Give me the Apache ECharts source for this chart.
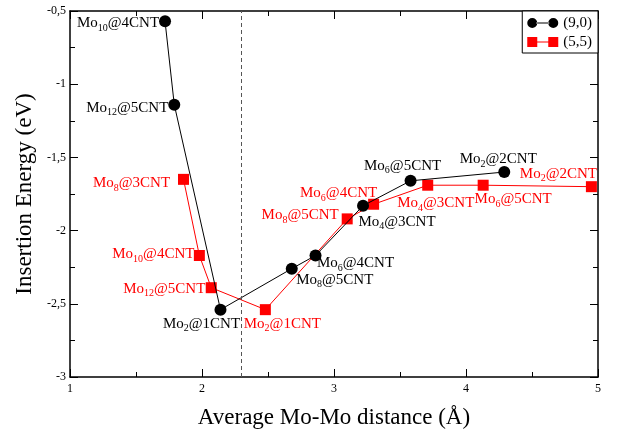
<!DOCTYPE html>
<html>
<head>
<meta charset="utf-8">
<script src="https://cdn.jsdelivr.net/npm/echarts@6/dist/echarts.min.js"></script>
<style>
    html, body { margin: 0; padding: 0; background: #fff; }
    #chart { width: 621px; height: 434px; }
</style>
</head>
<body>
<div id="chart"></div>
<script>
// Data
// ------------------------------

// (9,0) tubes
var zigzagX = [1.72, 1.79, 2.14, 2.68, 2.86, 3.22, 3.58, 4.29];
var zigzagY = [-0.57, -1.14, -2.54, -2.26, -2.17, -1.83, -1.66, -1.60];
var zigzagNames = ['Mo10@4CNT', 'Mo12@5CNT', 'Mo2@1CNT', 'Mo8@5CNT', 'Mo6@4CNT', 'Mo4@3CNT', 'Mo6@5CNT', 'Mo2@2CNT'];

// (5,5) tubes
var armchairX = [1.86, 1.98, 2.07, 2.48, 3.10, 3.30, 3.71, 4.13, 4.95];
var armchairY = [-1.65, -2.17, -2.39, -2.54, -1.92, -1.82, -1.69, -1.69, -1.70];
var armchairNames = ['Mo8@3CNT', 'Mo10@4CNT', 'Mo12@5CNT', 'Mo2@1CNT', 'Mo8@5CNT', 'Mo6@4CNT', 'Mo4@3CNT', 'Mo6@5CNT', 'Mo2@2CNT'];

// Dashed reference distance
var refDistance = 2.3;

// Label offsets (px, relative to the marker centre)
var zigzagOffsets = [[-47, 2], [-47, 3], [-19, 14], [43, 11], [40, 8], [34, 16], [-8, -15], [-6, -13]];
var armchairOffsets = [[-52, 4], [-46, -1], [-47, 1], [17, 14], [-47, -4], [-35, -11], [8, 18], [30, 14], [-33, -13]];


var FONT = '"Liberation Serif", "DejaVu Serif", serif';

var richFor = function(color) {
    return {
        m: { fontFamily: FONT, fontSize: 15, lineHeight: 20, color: color },
        s: { fontFamily: FONT, fontSize: 10, lineHeight: 20, color: color, verticalAlign: 'bottom' }
    };
};

var labelText = function(name) {
    var m = name.match(/^Mo(\d+)@(.*)$/);
    return '{m|Mo}{s|' + m[1] + '}{m|@' + m[2] + '}';
};

var buildData = function(xs, ys, names, offsets, color) {
    return xs.map(function(x, i) {
        return {
            value: [x, ys[i]],
            label: {
                show: true,
                position: 'inside',
                offset: offsets[i],
                formatter: labelText(names[i]),
                rich: richFor(color)
            }
        };
    });
};

var comma = function(v) {
    return String(v).replace('.', ',');
};

var chart = echarts.init(document.getElementById('chart'));

// Boxed axes with inward ticks
var axisCommon = function(extra) {
    return Object.assign({
        type: 'value',
        axisLine: { show: true, onZero: false, lineStyle: { color: '#000', width: 1.5 } },
        axisTick: { show: true, inside: true, length: 8, lineStyle: { color: '#000', width: 1 } },
        minorTick: { show: true, splitNumber: 2, length: 5, lineStyle: { color: '#000', width: 1 } },
        splitLine: { show: false }
    }, extra);
};

chart.setOption({
    animation: false,
    backgroundColor: '#fff',
    textStyle: { fontFamily: FONT },

    grid: { left: 70, right: 23, top: 11, bottom: 56 },

    legend: {
        right: 23,
        top: 11,
        orient: 'vertical',
        backgroundColor: '#fff',
        borderColor: '#000',
        borderWidth: 1,
        borderRadius: 0,
        padding: [4, 6, 3, 5],
        itemGap: 3,
        itemWidth: 31,
        itemHeight: 10,
        textStyle: { fontFamily: FONT, fontSize: 15, lineHeight: 16, color: '#000' },
        data: [
            { name: '(9,0)', icon: 'path://M0,5a5,5 0 1,0 10,0a5,5 0 1,0 -10,0z M21,5a5,5 0 1,0 10,0a5,5 0 1,0 -10,0z M9,4.4h13v1.2h-13z' },
            { name: '(5,5)', icon: 'path://M0,0h10v10h-10z M21,0h10v10h-10z M9,4.4h13v1.2h-13z' }
        ]
    },

    xAxis: [
        axisCommon({
            min: 1, max: 5, interval: 1,
            position: 'bottom',
            name: 'Average Mo-Mo distance (Å)',
            nameLocation: 'middle',
            nameGap: 29,
            nameTextStyle: { fontFamily: FONT, fontSize: 23, color: '#000' },
            axisLabel: { color: '#000', fontFamily: FONT, fontSize: 12, margin: 6 }
        }),
        axisCommon({
            min: 1, max: 5, interval: 1,
            position: 'top',
            axisLabel: { show: false }
        })
    ],

    yAxis: [
        axisCommon({
            min: -3, max: -0.5, interval: 0.5,
            position: 'left',
            name: 'Insertion Energy (eV)',
            nameLocation: 'middle',
            nameGap: 27,
            nameTextStyle: { fontFamily: FONT, fontSize: 23, color: '#000' },
            axisLabel: { color: '#000', fontFamily: FONT, fontSize: 12, margin: 4, formatter: comma }
        }),
        axisCommon({
            min: -3, max: -0.5, interval: 0.5,
            position: 'right',
            axisLabel: { show: false }
        })
    ],

    series: [
        {
            name: '(9,0)',
            type: 'line',
            color: '#000',
            symbol: 'circle',
            symbolSize: 12,
            lineStyle: { width: 1, color: '#000' },
            itemStyle: { color: '#000' },
            data: buildData(zigzagX, zigzagY, zigzagNames, zigzagOffsets, '#000'),
            markLine: {
                silent: true,
                symbol: 'none',
                label: { show: false },
                lineStyle: { color: '#555', type: [4, 3], width: 1 },
                data: [{ xAxis: refDistance }]
            },
            z: 3
        },
        {
            name: '(5,5)',
            type: 'line',
            color: '#ff0000',
            symbol: 'rect',
            symbolSize: 11,
            lineStyle: { width: 1, color: '#ff0000' },
            itemStyle: { color: '#ff0000' },
            data: buildData(armchairX, armchairY, armchairNames, armchairOffsets, '#ff0000'),
            z: 2
        }
    ]
});
</script>
</body>
</html>
